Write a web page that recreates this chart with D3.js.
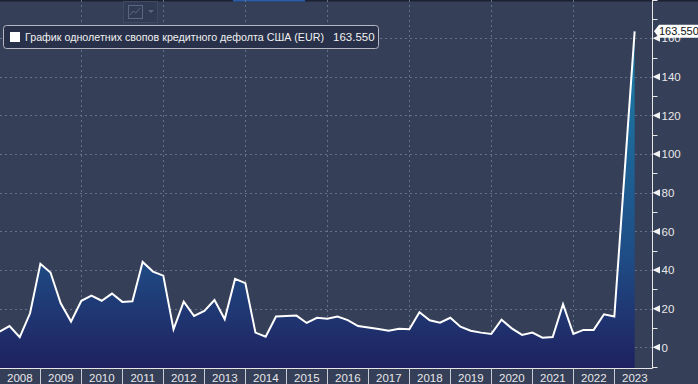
<!DOCTYPE html>
<html>
<head>
<meta charset="utf-8">
<script src="https://cdn.jsdelivr.net/npm/d3@7"></script>
<style>
  html, body { margin: 0; padding: 0; background: #353f58; overflow: hidden; }
  svg { display: block; font-family: "Liberation Sans", Arial, sans-serif; }
</style>
</head>
<body>
<script>
// quarterly 1y CDS, USA (EUR)
const quarters = [
  "2008-01-01","2008-04-01","2008-07-01","2008-10-01",
  "2009-01-01","2009-04-01","2009-07-01","2009-10-01",
  "2010-01-01","2010-04-01","2010-07-01","2010-10-01",
  "2011-01-01","2011-04-01","2011-07-01","2011-10-01",
  "2012-01-01","2012-04-01","2012-07-01","2012-10-01",
  "2013-01-01","2013-04-01","2013-07-01","2013-10-01",
  "2014-01-01","2014-04-01","2014-07-01","2014-10-01",
  "2015-01-01","2015-04-01","2015-07-01","2015-10-01",
  "2016-01-01","2016-04-01","2016-07-01","2016-10-01",
  "2017-01-01","2017-04-01","2017-07-01","2017-10-01",
  "2018-01-01","2018-04-01","2018-07-01","2018-10-01",
  "2019-01-01","2019-04-01","2019-07-01","2019-10-01",
  "2020-01-01","2020-04-01","2020-07-01","2020-10-01",
  "2021-01-01","2021-04-01","2021-07-01","2021-10-01",
  "2022-01-01","2022-04-01","2022-07-01","2022-10-01",
  "2023-01-01","2023-07-01"
];
const cdsValues = [
  8.1, 11.0, 5.2, 17.6,
  43.2, 38.7, 22.8, 13.3,
  24.1, 26.7, 24.1, 27.8,
  23.5, 23.8, 44.2, 39.2,
  37.1, 9.3, 23.6, 16.2,
  18.8, 24.5, 14.5, 35.4,
  33.2, 7.6, 5.5, 15.9,
  16.2, 16.4, 12.6, 15.3,
  14.8, 15.9, 14.1, 11.0,
  10.2, 9.5, 8.6, 9.6,
  9.3, 18.1, 14.0, 12.7,
  15.3, 10.7, 8.6, 7.6,
  6.9, 14.3, 9.8, 6.4,
  7.6, 5.0, 5.3, 22.3,
  6.9, 9.0, 9.0, 17.1,
  15.9, 163.55
];
const yearLabels = ["2008","2009","2010","2011","2012","2013","2014","2015",
                    "2016","2017","2018","2019","2020","2021","2022","2023"];
const yLabels = [0, 20, 40, 60, 80, 100, 120, 140, 160];
const yMinor = [-10, 10, 30, 50, 70, 90, 110, 130, 150, 170, 180];
const gridYears = ["2010","2012","2014","2016","2018","2020","2022"];
const seriesName = "График однолетних свопов кредитного дефолта США (EUR)";
const lastLabel = "163.550";

let width = 698;
let height = 384;
let axisX = 652.5;
let baseY = 368.5;

const data = quarters.map((q, i) => ({ date: new Date(q), value: cdsValues[i] }));

const svg = d3.select("body").append("svg")
  .attr("width", width)
  .attr("height", height);

let x = d3.scaleUtc()
  .domain([new Date("2008-01-01"), new Date("2024-01-01")])
  .range([-0.7, 655.3]);
let y = d3.scaleLinear().domain([0, 160]).range([347.3, 38.2]);

svg.append("rect").attr("width", width).attr("height", height).attr("fill", "#353f58");

// top strip
svg.append("rect").attr("x", 0).attr("y", 0).attr("width", width).attr("height", 1.5).attr("fill", "#1b2130");
svg.append("rect").attr("x", 233).attr("y", 0).attr("width", 72).attr("height", 1.5).attr("fill", "#2a5ea8");

// gradient for area
const defs = svg.append("defs");
const grad = defs.append("linearGradient")
  .attr("id", "fillGrad")
  .attr("gradientUnits", "userSpaceOnUse")
  .attr("x1", 0).attr("x2", 0)
  .attr("y1", y(163.55)).attr("y2", baseY);
grad.append("stop").attr("offset", "0%").attr("stop-color", "#1b80aa");
grad.append("stop").attr("offset", "68%").attr("stop-color", "#1f4b84");
grad.append("stop").attr("offset", "100%").attr("stop-color", "#1f2160");

// grid
svg.append("g").selectAll("line").data(yLabels).enter().append("line")
  .attr("x1", 0).attr("x2", axisX)
  .attr("y1", d => Math.round(y(d)) + 0.5).attr("y2", d => Math.round(y(d)) + 0.5)
  .attr("stroke", "#64718d").attr("stroke-dasharray", "2,3");
svg.append("g").selectAll("line").data(gridYears).enter().append("line")
  .attr("x1", d => Math.round(x(new Date(d + "-01-01"))) + 0.5)
  .attr("x2", d => Math.round(x(new Date(d + "-01-01"))) + 0.5)
  .attr("y1", 0).attr("y2", baseY)
  .attr("stroke", "#64718d").attr("stroke-dasharray", "2,3");

// area + line
const area = d3.area()
  .x(d => x(d.date))
  .y0(baseY)
  .y1(d => y(d.value));
const line = d3.line()
  .x(d => x(d.date))
  .y(d => y(d.value));

svg.append("path").datum(data)
  .attr("d", area)
  .attr("fill", "url(#fillGrad)");
svg.append("path").datum(data)
  .attr("d", line)
  .attr("fill", "none")
  .attr("stroke", "#ffffff")
  .attr("stroke-width", 2)
  .attr("stroke-linejoin", "miter");

// toolbar icon
let tb = svg.append("g").attr("transform", "translate(123,1)");
tb.append("rect").attr("x", 0.5).attr("y", 0.5).attr("width", 34).attr("height", 21)
  .attr("fill", "#313b54").attr("stroke", "#3f4963");
tb.append("rect").attr("x", 5.5).attr("y", 4.5).attr("width", 14).attr("height", 13)
  .attr("fill", "none").attr("stroke", "#5d6680");
tb.append("polyline").attr("points", "7,14 10,10 13,12 17,7")
  .attr("fill", "none").attr("stroke", "#5d6680");
tb.append("path").attr("d", "M25,9 L31,9 L28,12 Z").attr("fill", "#5d6680");

// y axis
let ax = svg.append("g");
ax.append("line").attr("x1", axisX).attr("x2", axisX).attr("y1", 0).attr("y2", baseY)
  .attr("stroke", "#e6e6e6");
ax.selectAll(".minor").data(yMinor).enter().append("line")
  .attr("x1", axisX).attr("x2", axisX + 5)
  .attr("y1", d => Math.round(y(d)) + 0.5).attr("y2", d => Math.round(y(d)) + 0.5)
  .attr("stroke", "#e6e6e6");
ax.selectAll(".tri").data(yLabels).enter().append("path")
  .attr("d", d => `M${axisX},${y(d)} L${axisX + 7.5},${y(d) - 3.5} L${axisX + 7.5},${y(d) + 3.5} Z`)
  .attr("fill", "#f2f2f2");
ax.selectAll("text").data(yLabels).enter().append("text")
  .attr("x", 661.5).attr("y", d => y(d) + 4.2)
  .attr("fill", "#e8e8e8").attr("font-size", "11.5px")
  .text(d => d);

// x axis
let bx = svg.append("g");
bx.append("line").attr("x1", 0).attr("x2", axisX).attr("y1", baseY).attr("y2", baseY)
  .attr("stroke", "#e6e6e6");
bx.selectAll(".sep").data(yearLabels.slice(1)).enter().append("line")
  .attr("x1", d => Math.round(x(new Date(d + "-01-01"))) + 0.5)
  .attr("x2", d => Math.round(x(new Date(d + "-01-01"))) + 0.5)
  .attr("y1", baseY).attr("y2", height)
  .attr("stroke", "#c8ccd4");
bx.selectAll("text").data(yearLabels).enter().append("text")
  .attr("x", d => (x(new Date(d + "-01-01")) + x(new Date((+d + 1) + "-01-01"))) / 2)
  .attr("y", 381.5)
  .attr("text-anchor", "middle")
  .attr("fill", "#e8e8e8").attr("font-size", "11.5px")
  .text(d => d);

// last value tag (drawn over the 160 label, as in the source)
let last = data[data.length - 1];
let ly = y(last.value);
let tag = svg.append("g");
tag.append("path")
  .attr("d", `M654,${ly} L659,${ly - 6.5} L699,${ly - 6.5} L699,${ly + 6.5} L659,${ly + 6.5} Z`)
  .attr("fill", "#ffffff");
tag.append("text").attr("x", 659).attr("y", ly + 4)
  .attr("fill", "#111111").attr("font-size", "11px")
  .text(lastLabel);

// legend
let lg = svg.append("g");
lg.append("rect").attr("x", 3.5).attr("y", 25.5).attr("width", 375).attr("height", 23).attr("rx", 3)
  .attr("fill", "#283149").attr("stroke", "#b4b8c2");
lg.append("rect").attr("x", 10).attr("y", 32).attr("width", 10).attr("height", 10).attr("fill", "#ffffff");
lg.append("text").attr("x", 25).attr("y", 41)
  .attr("fill", "#f0f0f0").attr("font-size", "11px")
  .attr("textLength", 299).attr("lengthAdjust", "spacingAndGlyphs")
  .text(seriesName);
lg.append("text").attr("x", 333).attr("y", 41)
  .attr("fill", "#f0f0f0").attr("font-size", "11.5px")
  .text(lastLabel);
</script>
</body>
</html>
